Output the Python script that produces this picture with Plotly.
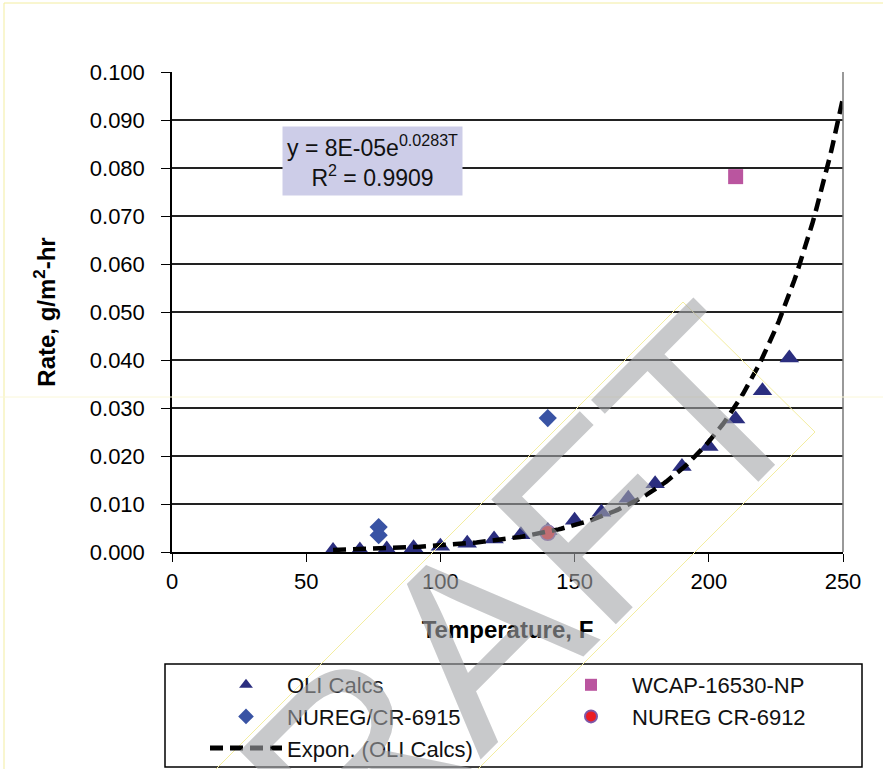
import numpy as np
import plotly.graph_objects as go

# ---- data ----
oli_temp = [60, 70, 80, 90, 100, 110, 120, 130, 140, 150, 160, 170, 180, 190, 200, 210, 220, 230]
oli_rate = [0.0003, 0.0004, 0.0006, 0.0009, 0.0012, 0.0018, 0.0027, 0.0036, 0.0045, 0.0066,
            0.0083, 0.0112, 0.0142, 0.0178, 0.0220, 0.0277, 0.0336, 0.0404]
wcap_temp = [210]
wcap_rate = [0.0782]
nureg6915_temp = [77, 77, 140]
nureg6915_rate = [0.0052, 0.0035, 0.0279]
nureg6912_temp = [140]
nureg6912_rate = [0.0040]

# exponential trendline coefficients as printed on the chart
fit_a = 8e-05
fit_b = 0.0283
trend_temp = np.linspace(60, 250, 200)
trend_rate = fit_a * np.exp(fit_b * trend_temp)

y_ticks = [0.000, 0.010, 0.020, 0.030, 0.040, 0.050, 0.060, 0.070, 0.080, 0.090, 0.100]
x_ticks = [0, 50, 100, 150, 200, 250]

FONT = "Liberation Sans, Arial, sans-serif"
W, H = 883, 769
L, R, T, B = 172, 40, 72, 217
PW, PH = W - L - R, H - T - B


def px(xp):
    return (xp - L) / PW


def py(yp):
    return (T + PH - yp) / PH


fig = go.Figure()
fig.add_trace(go.Scatter(x=oli_temp, y=oli_rate, mode="markers", name="OLI Calcs",
                         marker=dict(symbol="triangle-up", size=17, color="#2B2E7F"),
                         legendrank=1))
fig.add_trace(go.Scatter(x=nureg6915_temp, y=nureg6915_rate, mode="markers", name="NUREG/CR-6915",
                         marker=dict(symbol="diamond", size=14, color="#3953A4"),
                         legendrank=3))
fig.add_trace(go.Scatter(x=wcap_temp, y=wcap_rate, mode="markers", name="WCAP-16530-NP",
                         marker=dict(symbol="square", size=15, color="#BA559F"),
                         legendrank=2))
fig.add_trace(go.Scatter(x=nureg6912_temp, y=nureg6912_rate, mode="markers", name="NUREG CR-6912",
                         marker=dict(symbol="circle", size=15, color="#EC1C24",
                                     line=dict(color="#7E57A8", width=1.5)),
                         legendrank=4))
fig.add_trace(go.Scatter(x=trend_temp, y=trend_rate, mode="lines", name="Expon. (OLI Calcs)",
                         line=dict(color="black", width=4.5, dash="13px,7px"),
                         legendrank=5))

fig.update_layout(
    width=W, height=H,
    margin=dict(l=L, r=R, t=T, b=B, autoexpand=False),
    paper_bgcolor="white", plot_bgcolor="white",
    font=dict(family=FONT, size=22, color="black"),
    showlegend=True,
    legend=dict(orientation="h", x=px(165), y=py(664), xanchor="left", yanchor="top",
                entrywidth=218, itemwidth=72, indentation=40, itemsizing="constant",
                bgcolor="rgba(0,0,0,0)", font=dict(family=FONT, size=22, color="#111111")),
    xaxis=dict(range=[0, 250], tickvals=x_ticks, ticktext=[str(v) for v in x_ticks],
               showgrid=False, zeroline=False, showline=True, linecolor="black", linewidth=1.5,
               ticks="outside", ticklen=8, tickcolor="black", ticklabelstandoff=1,
               tickfont=dict(size=22),
               title=dict(text="<b>Temperature, F</b>", font=dict(size=24), standoff=28)),
    yaxis=dict(range=[0, 0.1], tickvals=y_ticks, ticktext=[f"{v:.3f}" for v in y_ticks],
               showgrid=True, gridcolor="#222222", gridwidth=1.5, zeroline=False,
               showline=True, linecolor="black", linewidth=1.5,
               ticks="outside", ticklen=9, tickcolor="black", ticklabelstandoff=12,
               tickfont=dict(size=22),
               title=dict(text="<b>Rate, g/m<sup>2</sup>-hr</b>", font=dict(size=24), standoff=27)),
)

# right frame line and legend border
fig.add_shape(type="line", xref="paper", yref="paper", x0=1, x1=1, y0=0, y1=1,
              line=dict(color="#777777", width=1.5))
fig.add_shape(type="rect", xref="paper", yref="paper",
              x0=px(165), x1=px(862), y0=py(767), y1=py(664),
              line=dict(color="black", width=1.5), fillcolor="rgba(0,0,0,0)")

# faint yellow scan/page outlines
yellow = "#F3EDA0"
fig.add_shape(type="path", xref="paper", yref="paper",
              path=f"M {px(4)},{py(769)} L {px(4)},{py(3)} L {px(883)},{py(3)}",
              line=dict(color=yellow, width=1))
fig.add_shape(type="line", xref="paper", yref="paper", x0=px(0), x1=px(883),
              y0=py(397), y1=py(397), line=dict(color="#FAF7D8", width=1))
fig.add_shape(type="path", xref="paper", yref="paper",
              path=(f"M {px(216)},{py(769)} L {px(683)},{py(302)} L {px(815)},{py(432)} "
                    f"L {px(478)},{py(769)}"),
              line=dict(color=yellow, width=1))

# equation box
fig.add_annotation(xref="paper", yref="paper", x=px(372), y=py(161),
                   xanchor="center", yanchor="middle",
                   text="y = 8E-05e<sup>0.0283T</sup><br>R<sup>2</sup> = 0.9909",
                   showarrow=False, align="center", bgcolor="#CDCDE8", borderpad=4,
                   font=dict(family=FONT, size=23, color="#111111"))

# DRAFT watermark
fig.add_annotation(xref="paper", yref="paper", x=px(457), y=py(657),
                   xanchor="center", yanchor="middle",
                   text="DRAFT", showarrow=False, textangle=-45,
                   font=dict(family=FONT, size=256, color="rgba(163,165,169,0.6)"))

fig.write_html("out.html", config={"displayModeBar": False},
               post_script="document.body.style.margin='0';")
